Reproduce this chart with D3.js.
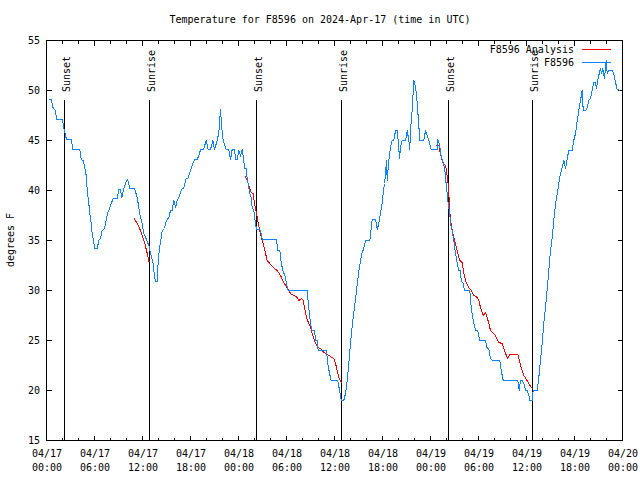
<!DOCTYPE html>
<html><head><meta charset="utf-8">
<script src="https://cdn.jsdelivr.net/npm/d3@7"></script>
<style>
body{margin:0;background:#fff}
svg{display:block}
text{font-family:"DejaVu Sans Mono","Liberation Mono",monospace;font-size:10px;fill:#000}
</style>
</head><body>
<svg id="c" width="640" height="480"></svg>
<script>
const titleText = "Temperature for F8596 on 2024-Apr-17 (time in UTC)";
const yLabelText = "degrees F";
const startUTC = "2024-04-17T00:00:00Z";
const spanHours = 72;
const yTicks = [15, 20, 25, 30, 35, 40, 45, 50, 55];
const xMajorHours = [0, 6, 12, 18, 24, 30, 36, 42, 48, 54, 60, 66, 72];
const seriesNames = ["F8596 Analysis", "F8596"];
const seriesColors = ["#ff0000", "#0a84ff"];

const sunLabels = ["Sunset", "Sunrise", "Sunset", "Sunrise", "Sunset", "Sunrise"];
const sunHours = [2.29, 12.91, 26.25, 36.88, 50.29, 60.79];

const stationHours = [0.29,0.59,0.71,0.84,1.13,1.25,2.0,2.16,2.29,2.5,
3.09,3.29,4.16,4.34,4.59,4.79,4.96,5.09,5.29,5.41,
5.59,5.71,5.91,6.04,6.34,6.54,6.75,6.96,7.25,7.46,
7.66,7.88,8.09,8.34,8.84,9.04,9.25,9.41,9.66,9.91,
10.16,10.41,11.0,11.34,11.54,11.75,11.96,12.16,12.5,12.79,
13.0,13.34,13.5,13.66,13.84,13.91,14.09,14.34,14.46,14.75,
15.0,15.29,15.5,15.71,15.91,16.13,16.34,16.54,16.75,16.96,
17.16,17.29,17.46,17.66,17.88,18.09,18.29,18.5,18.84,19.13,
19.25,19.63,19.96,20.21,20.5,20.79,21.0,21.34,21.54,21.75,
21.96,22.09,22.46,22.79,23.0,23.21,23.5,23.63,23.84,24.04,
24.25,24.46,24.66,24.75,24.96,25.09,25.29,25.41,25.59,25.71,
25.91,26.13,26.25,26.66,26.84,26.96,28.75,28.91,29.16,29.34,
29.54,29.79,30.0,30.21,32.59,32.75,32.88,33.0,33.21,33.5,
33.63,33.84,33.96,35.0,35.16,35.38,35.59,36.41,36.63,36.84,
37.16,37.38,37.59,37.79,38.0,38.25,38.5,38.75,39.0,39.25,
39.46,39.66,39.88,40.41,40.59,40.71,41.13,41.34,41.54,41.75,
41.96,42.09,42.25,42.38,42.5,42.59,42.71,42.84,43.0,43.21,
43.41,43.63,43.84,43.96,44.13,44.25,44.46,44.88,45.09,45.29,
45.41,45.5,45.71,45.91,46.13,46.31,46.54,46.66,47.16,47.38,
47.59,47.79,48.09,48.84,48.91,49.16,49.25,49.59,49.75,49.88,
50.0,50.09,50.21,50.41,50.5,50.71,50.91,51.13,51.34,51.54,
51.75,51.84,52.09,52.25,52.91,53.09,53.34,53.63,53.91,54.16,
54.88,55.09,55.29,55.5,55.71,56.66,56.84,57.09,58.91,59.09,
59.25,59.46,59.66,59.88,60.09,60.29,60.41,60.71,60.84,61.34,
61.54,61.75,61.96,62.16,62.38,62.59,62.79,63.0,63.21,63.41,
63.63,63.84,64.04,64.25,64.46,64.66,64.88,65.09,65.29,65.71,
65.91,66.13,66.34,66.54,66.75,66.96,67.09,67.38,67.59,67.79,
68.0,68.21,68.41,68.63,68.75,68.91,69.09,69.25,69.38,69.54,
69.75,69.96,70.09,70.29,70.71,70.91,71.13,71.34,71.75];

const stationTemps = [49.1,49.1,48.7,48.2,48,47.1,47.1,46.3,45.8,45.1,
45.1,44.1,44.1,43.1,43,42.3,41.5,40,38.7,37.7,
36.7,35.7,34.8,34.2,34.2,35,35.2,36,36.2,37,
37.8,38.2,38.7,39.2,39.2,40.1,40.1,39.3,40.2,40.8,
41.1,40.2,40.2,39.3,38.3,37.3,36.7,35.7,35.1,34.5,
33.7,32.7,31.3,30.9,30.9,32.3,34,35.3,36,36.2,
37,37.3,38,38,39,38.3,39,39.3,39.8,40.2,
40.2,40.7,41.2,41.2,41.7,42.2,42.7,43.1,43.1,43.7,
44.1,44.1,45,44.1,44.1,45,44.1,45,45.8,48.1,
45.8,45,44.1,44.1,43.1,44.1,44.1,43.1,43.1,44,
43.5,44.1,43,42.2,42.2,41.2,40.3,39.7,39.3,38.3,
38,36.7,36.1,36.1,35.7,35.1,35.1,34,34,32.8,
32,31.5,30.7,30,30,28.5,27.5,26.7,26,26,
25,25,24,24,22.7,21.7,21,21,20,19,
19,19.7,21,22.7,24.7,26.7,28.3,30,31.7,33,
33.8,34.2,35,35,36.2,37.1,37.1,36.1,36.7,37.8,
38.7,39.7,40.7,41.7,43,41,42.3,43.3,44.3,45,
45,46,46,45,43.2,44.3,45,45,46,45,
44.1,46,48,51,50.4,49,46.5,45,45,46,
45.5,45,44.1,44.1,45.1,44.5,43.7,42.7,42.3,41.3,
40.3,39.7,38.7,37.7,36.7,36,35,33.7,32.7,32,
32,31,30.7,30,30,28.3,27,26,26,25,
25,24.2,24.2,23.2,23,23,22,21,21,20,
21,21,20.7,20,20,19.5,19,19,20,20,
21.3,23,24.7,26.7,28.3,30.2,32,34,35.3,37,
38.7,39.7,40.7,41.7,42.3,43,42.2,43.2,44,44,
45,45.7,47,48,49,50,48,48,48.3,49,
49.2,50,50.8,50.8,50.2,51,51.7,52.2,51.7,52.2,
51.2,53,51.7,52,52,51.7,50.8,50.1,50];

// null temperature = gap between analysis runs
const analysisHours = [10.91,11.34,11.75,12.04,12.29,12.5,12.66,12.84,
18,
24.79,25.09,25.29,25.59,25.84,26.0,26.25,26.41,26.66,26.96,27.16,27.38,27.59,27.91,28.34,28.84,29.25,29.54,29.88,30.16,30.5,30.91,31.34,31.54,31.88,32.09,32.25,32.5,32.79,33.0,33.21,33.41,33.63,33.91,34.25,34.66,35.09,35.5,35.91,36.13,36.34,36.54,36.75,36.88,
42,
48.63,49.04,49.16,49.46,49.66,49.88,50.0,50.16,50.29,50.38,50.5,50.71,50.91,51.13,51.41,51.66,51.96,52.16,52.5,52.79,53.09,53.41,53.84,54.04,54.25,54.59,54.88,55.09,55.29,55.5,55.91,56.25,56.54,56.96,57.16,57.38,57.66,57.91,58.91,59.16,59.38,59.66,60.0,60.29,60.59,60.84];
const analysisTemps = [37.3,36.7,36,35.3,34.7,34,33.5,32.8,
null,
41.5,41,40.5,39.8,39.7,38.7,37.7,37,36,35,34.5,33.7,33,32.7,32.3,32,31.5,31,30.5,30.2,29.7,29.5,29.3,29,29.2,29,28.3,27.3,26.7,26.3,25.7,25.2,24.7,24.3,24.2,23.8,23.6,23.4,23.2,22.7,22,21.3,20.9,20.8,
null,
44.5,44.5,44,43,42.7,42.5,42,41,39.7,38.3,37,36,35.3,34.7,33.7,33,32.8,31.7,30.7,30.3,30,29.5,29.3,29,28.3,27.5,27.8,27.3,26.7,26,25.7,25.3,24.8,24.7,24.2,23.7,23.2,23.6,23.6,22.8,22.2,21.5,21.1,20.7,20.3,20.1];

const svg = d3.select("#c");
const L = 46, R = 622, T = 40, B = 440;
const t0 = new Date(startUTC);
const toDate = h => new Date(t0.getTime() + h * 3600e3);
const x = d3.scaleUtc().domain([t0, toDate(spanHours)]).range([L, R]);
const y = d3.scaleLinear().domain([15, 55]).range([B, T]);

const g = svg.append("g").attr("transform", "translate(0.5,0.5)");

// title
svg.append("text").attr("x", 320).attr("y", 23).attr("text-anchor", "middle").text(titleText);
// y label
svg.append("text").attr("transform", "translate(14,240) rotate(-90)").attr("text-anchor", "middle").text(yLabelText);

// ticks
const major = 5, minor = 3;
const minorHours = d3.range(0, spanHours + 0.001, 2).filter(h => h % 6 !== 0);
const tk = g.append("g").attr("stroke", "#000").attr("shape-rendering", "crispEdges");
xMajorHours.forEach(h => {
  const xx = Math.round(x(toDate(h)));
  tk.append("line").attr("x1", xx).attr("x2", xx).attr("y1", B).attr("y2", B - major);
  tk.append("line").attr("x1", xx).attr("x2", xx).attr("y1", T).attr("y2", T + major);
});
minorHours.forEach(h => {
  const xx = Math.round(x(toDate(h)));
  tk.append("line").attr("x1", xx).attr("x2", xx).attr("y1", B).attr("y2", B - minor);
  tk.append("line").attr("x1", xx).attr("x2", xx).attr("y1", T).attr("y2", T + minor);
});
yTicks.forEach(v => {
  const yy = Math.round(y(v));
  tk.append("line").attr("x1", L).attr("x2", L + major).attr("y1", yy).attr("y2", yy);
  tk.append("line").attr("x1", R).attr("x2", R - major).attr("y1", yy).attr("y2", yy);
});

// tick labels
const fmtD = d3.utcFormat("%m/%d"), fmtT = d3.utcFormat("%H:%M");
xMajorHours.forEach(h => {
  const d = toDate(h), xx = x(d) + 1;
  const t = svg.append("text").attr("text-anchor", "middle");
  t.append("tspan").attr("x", xx).attr("y", 457).text(fmtD(d));
  t.append("tspan").attr("x", xx).attr("y", 471).text(fmtT(d));
});
yTicks.forEach(v => {
  svg.append("text").attr("x", 40).attr("y", y(v) + 4).attr("text-anchor", "end").text(v);
});

// sunrise / sunset markers
sunHours.forEach((h, i) => {
  const xx = Math.round(x(toDate(h)));
  g.append("line").attr("x1", xx).attr("x2", xx).attr("y1", 99).attr("y2", B)
    .attr("stroke", "#000").attr("shape-rendering", "crispEdges");
  svg.append("text").attr("transform", `translate(${xx + 5.5},92) rotate(-90)`).text(sunLabels[i]);
});

// data lines
const line = d3.line().defined(d => d.t !== null).x(d => x(toDate(d.h))).y(d => y(d.t));
const analysis = analysisHours.map((h, i) => ({h, t: analysisTemps[i]}));
const station = stationHours.map((h, i) => ({h, t: stationTemps[i]}));
g.append("path").datum(analysis).attr("d", line).attr("fill", "none")
  .attr("stroke", seriesColors[0]).attr("stroke-width", 1).attr("shape-rendering", "crispEdges");
g.append("path").datum(station).attr("d", line).attr("fill", "none")
  .attr("stroke", seriesColors[1]).attr("stroke-width", 1).attr("shape-rendering", "crispEdges");

// border
g.append("rect").attr("x", L).attr("y", T).attr("width", R - L).attr("height", B - T)
  .attr("fill", "none").attr("stroke", "#000").attr("shape-rendering", "crispEdges");

// legend
seriesNames.forEach((name, i) => {
  const ly = 49 + i * 13;
  svg.append("text").attr("x", 574).attr("y", ly + 4).attr("text-anchor", "end").text(name);
  g.append("line").attr("x1", 581).attr("x2", 610).attr("y1", ly).attr("y2", ly)
    .attr("stroke", seriesColors[i]).attr("shape-rendering", "crispEdges");
});
</script>
</body></html>
